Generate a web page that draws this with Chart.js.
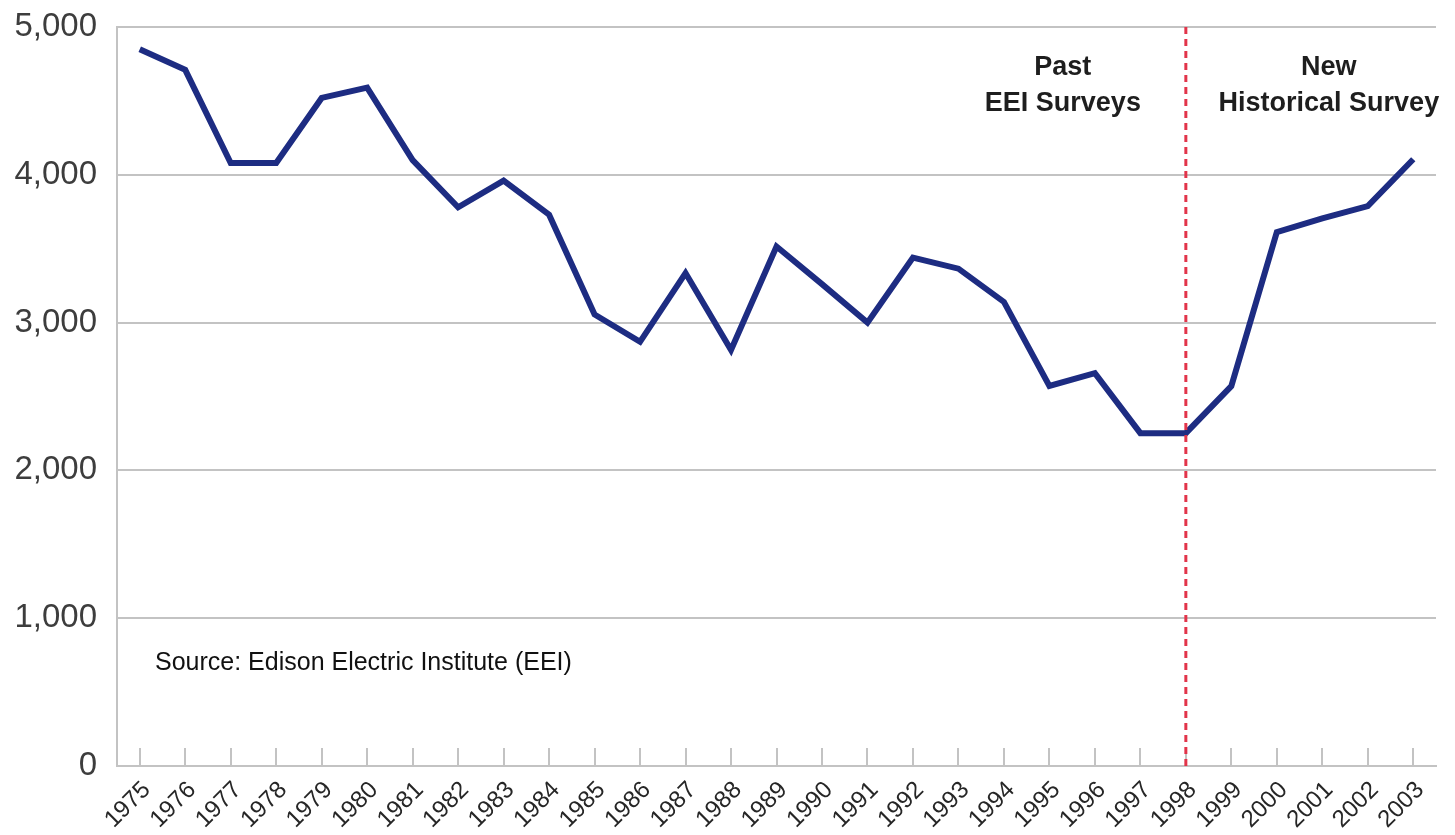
<!DOCTYPE html>
<html>
<head>
<meta charset="utf-8">
<title>EEI survey series 1975–2003</title>
<script src="https://cdn.jsdelivr.net/npm/chart.js@4.4.1/dist/chart.umd.min.js"></script>
<style>
  html, body { margin: 0; padding: 0; background: #ffffff; }
  #wrap { width: 1455px; height: 835px; position: relative; }
</style>
</head>
<body>
<div id="wrap"><canvas id="chart"></canvas></div>
<script>
// Years on the category axis
const years = ['1975','1976','1977','1978','1979','1980','1981','1982','1983','1984',
               '1985','1986','1987','1988','1989','1990','1991','1992','1993','1994',
               '1995','1996','1997','1998','1999','2000','2001','2002','2003'];

// Annual values
const values = [4850, 4710, 4080, 4080, 4520, 4590, 4100, 3780, 3960, 3730,
                3055, 2870, 3335, 2815, 3515, 3260, 3000, 3440, 3365, 3140,
                2572, 2658, 2252, 2252, 2570, 3612, 3705, 3788, 4105];

// Value axis range
const yMin = 0;
const yMax = 5000;
const yStep = 1000;

// Year where the survey method changes
const splitYear = '1998';
const leftEraLines = ['Past', 'EEI Surveys'];
const rightEraLines = ['New', 'Historical Survey'];
const sourceNote = 'Source: Edison Electric Institute (EEI)';

const GRID = '#c3c3c3';
const LINE = '#1d2c82';

// Draws short inner tick marks, the survey divider and the text notes
const overlayPlugin = {
  id: 'overlay',
  afterDatasetsDraw(chart) {
    const { ctx, chartArea, scales } = chart;
    const x = scales.x;
    ctx.save();

    // tick marks rising from the x axis
    ctx.strokeStyle = GRID;
    ctx.lineWidth = 2;
    years.forEach(y => {
      const px = Math.round(x.getPixelForValue(y));
      ctx.beginPath();
      ctx.moveTo(px, chartArea.bottom);
      ctx.lineTo(px, chartArea.bottom - 18);
      ctx.stroke();
    });

    // dashed divider
    const sx = x.getPixelForValue(splitYear);
    ctx.strokeStyle = '#e2344a';
    ctx.lineWidth = 3;
    ctx.setLineDash([7, 5]);
    ctx.beginPath();
    ctx.moveTo(sx, chartArea.top);
    ctx.lineTo(sx, chartArea.bottom);
    ctx.stroke();
    ctx.setLineDash([]);

    // era headings
    ctx.fillStyle = '#1e1e1e';
    ctx.font = 'bold 27px "Liberation Sans", Arial, sans-serif';
    ctx.textAlign = 'center';
    ctx.textBaseline = 'middle';
    leftEraLines.forEach((t, i) => ctx.fillText(t, sx - 123, 68 + i * 36));
    rightEraLines.forEach((t, i) => ctx.fillText(t, sx + 143, 68 + i * 36));

    // source note
    ctx.fillStyle = '#111111';
    ctx.font = '25px "Liberation Sans", Arial, sans-serif';
    ctx.textAlign = 'left';
    ctx.fillText(sourceNote, chartArea.left + 38, 663);

    ctx.restore();
  }
};

new Chart(document.getElementById('chart'), {
  type: 'line',
  data: {
    labels: years,
    datasets: [{
      data: values,
      borderColor: LINE,
      borderWidth: 6,
      pointRadius: 0,
      tension: 0,
      fill: false
    }]
  },
  options: {
    responsive: true,
    maintainAspectRatio: false,
    animation: false,
    layout: { padding: { top: 27, right: 19, left: 0, bottom: 0 } },
    plugins: {
      legend: { display: false },
      tooltip: { enabled: false }
    },
    scales: {
      x: {
        offset: true,
        grid: { display: false, drawTicks: false },
        border: { display: true, color: GRID, width: 2 },
        ticks: {
          autoSkip: false,
          maxRotation: 45,
          minRotation: 45,
          padding: 10,
          labelOffset: 7,
          color: '#262626',
          font: { family: '"Liberation Sans", Arial, sans-serif', size: 24 }
        },
        afterFit(scale) {
          scale.height = 69;
          scale.paddingLeft = 0;
          scale.paddingRight = 0;
        }
      },
      y: {
        min: yMin,
        max: yMax,
        grid: { color: GRID, lineWidth: 2, drawTicks: false },
        border: { display: true, color: GRID, width: 2 },
        ticks: {
          stepSize: yStep,
          padding: 20,
          color: '#3d3d3d',
          font: { family: '"Liberation Sans", Arial, sans-serif', size: 33 },
          callback: v => v.toLocaleString('en-US')
        },
        afterFit(scale) {
          scale.width = 117;
          scale.paddingTop = 0;
          scale.paddingBottom = 0;
        }
      }
    }
  },
  plugins: [overlayPlugin]
});
</script>
</body>
</html>
